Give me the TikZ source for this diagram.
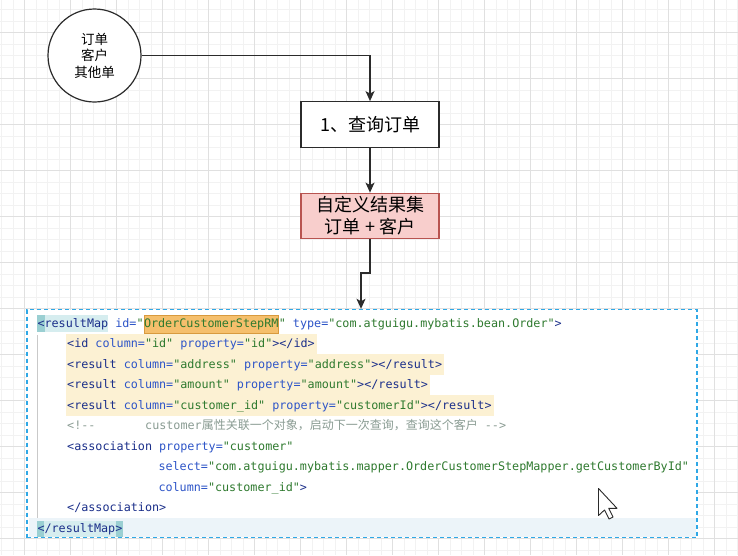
\documentclass[tikz,border=0pt]{standalone}
\usepackage{fontspec}
\setmainfont{Noto Sans CJK SC}
\setmonofont{DejaVu Sans Mono}
\newfontfamily\cjkfont{Noto Sans CJK SC}
\usetikzlibrary{arrows.meta}
\pgfdeclarelayer{gridlayer}
\pgfdeclarelayer{hllayer}
\pgfsetlayers{gridlayer,hllayer,main}

\definecolor{tagc}{HTML}{1B2F8A}
\definecolor{attc}{HTML}{2E55C8}
\definecolor{valc}{HTML}{2F7A2F}
\definecolor{comc}{HTML}{8A9C93}
\definecolor{gridmin}{HTML}{F2F2F2}
\definecolor{gridmaj}{HTML}{E0E0E0}
\definecolor{pinkf}{HTML}{F8CECC}
\definecolor{pinkd}{HTML}{B85450}
\definecolor{dashc}{HTML}{2FA8E6}
\definecolor{hly}{HTML}{FCF1D3}
\definecolor{hlo}{HTML}{F5BF6C}
\definecolor{hlod}{HTML}{D89A3E}
\definecolor{tealD}{HTML}{9ACFD2}
\definecolor{tealL}{HTML}{D6EDEF}
\definecolor{rowb}{HTML}{ECF4F9}
\definecolor{guide}{HTML}{C9C9C9}
\definecolor{linec}{HTML}{2B2B2B}

\newcommand\xT[1]{\textcolor{tagc}{#1}}
\newcommand\xA[1]{\textcolor{attc}{#1}}
\newcommand\xV[1]{\textcolor{valc}{#1}}

\tikzset{
  codeline/.style={anchor=base west, inner sep=0pt, font=\ttfamily\fontsize{11.75}{14}\selectfont},
  arr/.style={draw=linec, line width=1.3pt, -{Stealth[length=10pt,width=9pt,inset=2.5pt]}},
  flowbox/.style={draw=linec, line width=1.2pt, fill=white, minimum width=138pt, minimum height=45.6pt, inner sep=0pt, align=center, font=\fontsize{18}{22}\selectfont},
  yhl/.style={fill=hly},
}

\begin{document}
\begin{tikzpicture}[x=1pt,y=-1pt]
\useasboundingbox (0,0) rectangle (738,555);

\begin{pgfonlayer}{gridlayer}
  \fill[white] (0,0) rectangle (738,555);
  \foreach \k in {0,...,64} \draw[gridmin, line width=0.6pt] ({1.3+11.5*\k},0) -- ({1.3+11.5*\k},555);
  \foreach \k in {0,...,47} \draw[gridmin, line width=0.6pt] (0,{9.3+11.5*\k}) -- (738,{9.3+11.5*\k});
  \foreach \k in {0,...,15} \draw[gridmaj, line width=0.8pt] ({24.3+46*\k},0) -- ({24.3+46*\k},555);
  \foreach \k in {0,...,11} \draw[gridmaj, line width=0.8pt] (0,{32.3+46*\k}) -- (738,{32.3+46*\k});
  \node[draw=dashc, line width=1.4pt, dash pattern=on 4pt off 3pt, fill=white,
        minimum width=670pt, minimum height=228pt, inner sep=0pt] (code) at (362,423.5) {};
\end{pgfonlayer}

% flow part
\node[circle, draw=linec, line width=1.2pt, fill=white, minimum size=93pt, inner sep=0pt,
      align=center, font=\fontsize{13.5}{16.5}\selectfont] (circ) at (94.5,55.5) {订单\\客户\\其他单};
\node[flowbox] (q) at (370,124.5) {1、查询订单};
\node[flowbox, draw=pinkd, fill=pinkf] (pink) at (370,216) {自定义结果集\\订单 + 客户};

\draw[arr] (circ.east) -| (q.north);
\draw[arr] (q) -- (pink);
\coordinate (bend) at (361,273);
\draw[arr] (pink.south) |- (bend) -- (bend |- code.north);

% code lines
\node[codeline] (l1a) at (37.3,327.5) {\xT{<resultMap} \xA{id=}\xV{"}};
\node[codeline] (l1b) at (l1a.base east) {\xV{OrderCustomerStepRM}};
\node[codeline] (l1c) at (l1b.base east) {\xV{"} \xA{type=}\xV{"com.atguigu.mybatis.bean.Order"}\xT{>}};
\node[codeline] (l2) at (67,347.95) {\xT{<id} \xA{column=}\xV{"id"} \xA{property=}\xV{"id"}\xT{></id>}};
\node[codeline] (l3) at (67,368.4) {\xT{<result} \xA{column=}\xV{"address"} \xA{property=}\xV{"address"}\xT{></result>}};
\node[codeline] (l4) at (67,388.85) {\xT{<result} \xA{column=}\xV{"amount"} \xA{property=}\xV{"amount"}\xT{></result>}};
\node[codeline] (l5) at (67,409.3) {\xT{<result} \xA{column=}\xV{"customer\_id"} \xA{property=}\xV{"customerId"}\xT{></result>}};
\node[codeline, text=comc] (l6a) at (67,429.75) {<!--};
\node[codeline, text=comc] (l6b) at (145,429.75) {customer{\cjkfont\fontsize{12}{14}\selectfont 属性关联一个对象，启动下一次查询，查询这个客户} -->};
\node[codeline] (l7) at (67,450.2) {\xT{<association} \xA{property=}\xV{"customer"}};
\node[codeline] (l8) at (158.3,470.65) {\xA{select=}\xV{"com.atguigu.mybatis.mapper.OrderCustomerStepMapper.getCustomerById"}};
\node[codeline] (l9) at (158.3,491.1) {\xA{column=}\xV{"customer\_id"}\xT{>}};
\node[codeline] (l10) at (67,511.55) {\xT{</association>}};
\node[codeline] (l11) at (37.3,532) {\xT{</resultMap>}};

% highlights
\begin{pgfonlayer}{hllayer}
  \fill[tealL] (37,315) rectangle (108,332);
  \fill[tealD] (37,315) rectangle (45.3,332);
  \filldraw[fill=hlo, draw=hlod, line width=0.6pt] ([yshift=12pt]l1b.base west) rectangle ([yshift=-5.5pt]l1b.base east);
  \foreach \n in {l2,l3,l4,l5}
    \fill[yhl] ([xshift=-1pt,yshift=14.25pt]\n.base west) rectangle ([xshift=2pt,yshift=-6.2pt]\n.base east);
  \draw[guide, line width=1pt] (37,335) -- (37,517.5);
  \fill[rowb] (29,517.5) rectangle (696,537);
  \fill[tealL] ([yshift=11.5pt]l11.base west) rectangle ([yshift=-4.5pt]l11.base east);
  \fill[tealD] ([yshift=11.5pt]l11.base west) rectangle ([xshift=7pt,yshift=-4.5pt]l11.base west);
  \fill[tealD] ([xshift=-6.5pt,yshift=11.5pt]l11.base east) rectangle ([yshift=-4.5pt]l11.base east);
\end{pgfonlayer}

% mouse cursor
\draw[linec, fill=white, line width=0.9pt, line join=round]
  (598.5,488.5) -- ++(0,27) -- ++(6,-5.5) -- ++(4.5,9) -- ++(4,-2) -- ++(-4.3,-8.7) -- ++(8.3,0) -- cycle;
\end{tikzpicture}
\end{document}
